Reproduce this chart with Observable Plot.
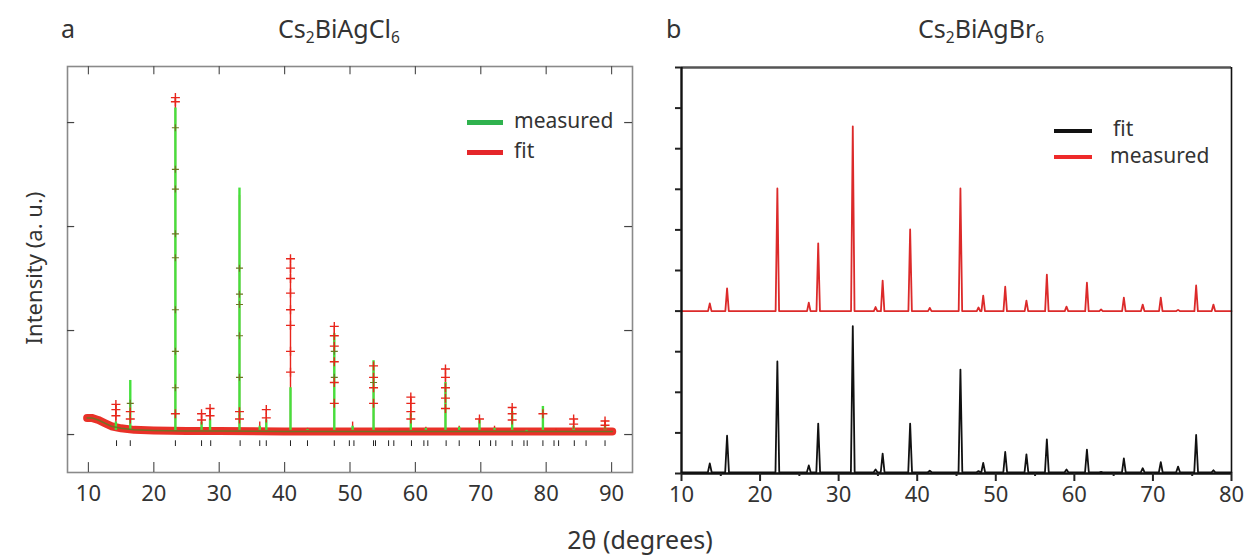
<!DOCTYPE html>
<html><head><meta charset="utf-8">
<script src="https://cdn.jsdelivr.net/npm/d3@7"></script>
<script src="https://cdn.jsdelivr.net/npm/@observablehq/plot@0.6"></script>
<style>
html,body{margin:0;padding:0;background:#fff;}
#root{position:relative;width:1252px;height:558px;overflow:hidden;font-family:"Noto Sans",sans-serif;color:#333;}
.abs{position:absolute;white-space:nowrap;line-height:1;}
.sub{font-size:62%;position:relative;top:0.35em;}
.leg{position:absolute;height:4px;}
</style>
</head><body>
<div id="root"></div>
<script>
// ---------- Panel a : Cs2BiAgCl6 ----------
const peaksA_x   = [14.2,16.4,23.3,27.3,28.6,33.1,36.2,37.2,40.9,43.5,47.6,50.4,53.6,56.0,59.3,61.6,64.6,66.7,69.8,72.1,74.8,77.0,79.5,81.5,84.2,89.0];
const measuredA  = [0.12,0.52,3.14,0.12,0.15,2.37,0.08,0.14,0.45,0.05,0.97,0.08,0.71,0.04,0.20,0.06,0.50,0.07,0.14,0.06,0.22,0.03,0.27,0.04,0.08,0.09];
const fitA       = [0.29,0.24,3.24,0.20,0.25,2.30,0.12,0.24,1.69,0.06,1.04,0.12,0.66,0.05,0.36,0.07,0.63,0.08,0.15,0.08,0.26,0.04,0.20,0.05,0.15,0.13];
const bgA_x = [9.8,10.5,11.5,12.5,13.5,15,17,20,25,30,40,50,60,70,80,90.1];
const bgA_y = [0.16,0.16,0.14,0.11,0.08,0.06,0.045,0.04,0.035,0.035,0.03,0.03,0.03,0.03,0.03,0.03];
const fitCrossX = [14.2,14.2,14.2,16.4,16.4,23.3,23.3,23.3,27.3,27.3,28.6,28.6,33.1,33.1,37.2,37.2,
  40.9,40.9,40.9,40.9,40.9,40.9,40.9,40.9,47.6,47.6,47.6,47.6,47.6,47.6,53.6,53.6,53.6,53.6,
  59.3,59.3,59.3,59.3,64.6,64.6,64.6,64.6,64.6,74.8,74.8,74.8,84.2,84.2,89.0,89.0,69.8,79.5];
const fitCrossY = [0.29,0.24,0.18,0.22,0.15,3.24,3.20,0.20,0.20,0.14,0.25,0.18,0.22,0.15,0.24,0.16,
  1.69,1.60,1.50,1.36,1.20,1.05,0.80,0.60,1.04,0.95,0.85,0.70,0.50,0.30,0.66,0.55,0.45,0.30,
  0.36,0.30,0.22,0.15,0.63,0.55,0.45,0.35,0.25,0.26,0.20,0.14,0.15,0.10,0.13,0.09,0.15,0.20];
const measCrossX = [23.3,23.3,23.3,23.3,23.3,23.3,23.3,23.3,33.1,33.1,33.1,33.1,33.1,47.6,47.6,53.6,16.4];
const measCrossY = [2.95,2.55,2.36,1.93,1.70,1.20,0.80,0.45,1.60,1.35,1.25,0.95,0.55,0.80,0.55,0.50,0.30];
const braggA = [14.3,16.4,23.3,27.3,28.7,33.2,36.2,37.2,40.9,43.5,47.6,49.9,50.6,53.6,53.9,55.9,56.7,59.4,61.3,61.9,
  64.7,66.7,69.8,71.5,72.3,74.8,76.6,77.1,79.5,81.2,81.9,84.3,86.1,89.0];
const xTicksA = [10,20,30,40,50,60,70,80,90];
const yTicksA = [0,1,2,3];

// ---------- Panel b : Cs2BiAgBr6 ----------
const peaksB_x  = [13.6,15.8,22.2,26.2,27.4,31.8,34.7,35.6,39.1,41.6,45.5,47.8,48.4,51.2,53.9,56.5,59.0,61.6,63.4,66.3,68.7,71.0,73.2,75.5,77.7];
const fitB      = [0.25,0.93,2.76,0.20,1.23,3.63,0.10,0.49,1.23,0.07,2.56,0.06,0.26,0.53,0.47,0.84,0.10,0.59,0.04,0.37,0.13,0.28,0.17,0.95,0.08];
const measuredB = [4.19,4.56,7.02,4.21,5.67,8.55,4.10,4.75,6.01,4.08,7.02,4.09,4.38,4.60,4.26,4.90,4.11,4.70,4.04,4.33,4.16,4.33,4.03,4.63,4.16];
const xTicksB = [10,20,30,40,50,60,70,80];
const xMinorB = [15,25,35,45,55,65,75];
const yTicksB = [0,1,2,3,4,5,6,7,8,9,10];

const GREEN = "#45e03c", RED = "#e8261c", OLIVE = "#6f7424";
const FONT = "Noto Sans, sans-serif";

const root = document.getElementById("root");

// ----- build panel a -----
const xDomA = [6.8, 93.2], yDomA = [-0.365, 3.539];
const bgA = bgA_x.map((x,i)=>({x, y: bgA_y[i]}));
const pkA = peaksA_x.map((x,i)=>({x, m: measuredA[i], f: fitA[i]}));
const crossF = fitCrossX.map((x,i)=>({x, y: fitCrossY[i]}));
const crossM = measCrossX.map((x,i)=>({x, y: measCrossY[i]}));

const plotA = Plot.plot({
  width: 645, height: 520,
  marginLeft: 67, marginRight: 13, marginTop: 66, marginBottom: 48,
  x: {domain: xDomA, label: null},
  y: {domain: yDomA, axis: null, label: null},
  style: {fontFamily: FONT, fontSize: "22px", color: "#333", background: "transparent", overflow: "visible"},
  marks: [
    Plot.line(bgA, {x:"x", y:"y", stroke: RED, strokeWidth: 8, strokeOpacity: 0.95}),
    Plot.ruleX(pkA, {x:"x", y1: 0.04, y2:"f", stroke: RED, strokeWidth: 1.4}),
    Plot.ruleX(pkA, {x:"x", y1: 0.04, y2:"m", stroke: GREEN, strokeWidth: 2.4}),
    Plot.line(bgA, {x:"x", y:"y", stroke: OLIVE, strokeWidth: 1.5}),
    Plot.dot(crossM, {x:"x", y:"y", symbol:"plus", r: 2.4, stroke: OLIVE, strokeWidth: 1.1}),
    Plot.dot(crossF, {x:"x", y:"y", symbol:"plus", r: 3, stroke: RED, strokeWidth: 1.4}),
    Plot.ruleX(braggA, {x: d=>d, y1: -0.06, y2: -0.115, stroke: "#222", strokeWidth: 1}),
    Plot.frame({stroke: "#8a8a8a", strokeWidth: 1.6}),
    Plot.ruleX(xTicksA, {x: d=>d, y1: yDomA[0], y2: yDomA[0]+0.095, stroke: "#555", strokeWidth: 1.2}),
    Plot.ruleX(xTicksA, {x: d=>d, y1: yDomA[1], y2: yDomA[1]-0.08, stroke: "#555", strokeWidth: 1.2}),
    Plot.ruleY(yTicksA, {y: d=>d, x1: xDomA[0], x2: xDomA[0]+1.1, stroke: "#444", strokeWidth: 1.2}),
    Plot.ruleY(yTicksA, {y: d=>d, x1: xDomA[1], x2: xDomA[1]-1.2, stroke: "#444", strokeWidth: 1.2}),
    Plot.axisX({ticks: xTicksA, tickSize: 0, tickPadding: 13, tickFormat: d=>String(d), fill: "#333", label: null})
  ]
});
const wa = document.createElement("div");
wa.style.cssText = "position:absolute;left:0;top:0;width:645px;height:520px;";
wa.appendChild(plotA);
root.appendChild(wa);

// ----- build panel b -----
function peakLine(xs, tops, base, w) {
  const pts = [{x: 10, y: base}];
  xs.forEach((x,i)=>{ pts.push({x: x-w, y: base}, {x, y: tops[i]}, {x: x+w, y: base}); });
  pts.push({x: 80, y: base});
  return pts;
}
const lineFitB = peakLine(peaksB_x, fitB, 0.03, 0.24);
const lineMeasB = peakLine(peaksB_x, measuredB, 4.0, 0.22);

const plotB = Plot.plot({
  width: 612, height: 520,
  marginLeft: 41, marginRight: 21, marginTop: 67, marginBottom: 47,
  x: {domain: [10, 80], label: null},
  y: {domain: [0, 10], label: null},
  style: {fontFamily: FONT, fontSize: "22px", color: "#333", background: "transparent", overflow: "visible"},
  marks: [
    Plot.line(lineMeasB, {x:"x", y:"y", stroke: "#dc2a2a", strokeWidth: 1.8}),
    Plot.line(lineFitB, {x:"x", y:"y", stroke: "#111", strokeWidth: 1.8}),
    Plot.ruleY([10], {stroke: "#555", strokeWidth: 2.4}),
    Plot.ruleX([80], {stroke: "#111", strokeWidth: 1.6}),
    Plot.ruleX([10], {stroke: "#111", strokeWidth: 2.4}),
    Plot.ruleY([0], {stroke: "#111", strokeWidth: 2.4}),
    Plot.axisY({ticks: yTicksB, tickSize: 6, tickFormat: () => "", stroke: "#222", strokeWidth: 2, label: null}),
    Plot.axisX({ticks: xMinorB, tickSize: 3, tickFormat: () => "", stroke: "#222", strokeWidth: 2, label: null}),
    Plot.axisX({ticks: xTicksB, tickSize: 8, tickPadding: 5, tickFormat: d=>String(d), stroke: "#222", strokeWidth: 2, fill: "#333", label: null})
  ]
});
const wb = document.createElement("div");
wb.style.cssText = "position:absolute;left:640px;top:0;width:612px;height:520px;";
wb.appendChild(plotB);
root.appendChild(wb);

// ----- text & legends -----
function addText(html, css) {
  const d = document.createElement("div");
  d.className = "abs";
  d.innerHTML = html;
  d.style.cssText += css;
  root.appendChild(d);
  return d;
}
function addLeg(x, y, w, color, h) {
  const d = document.createElement("div");
  d.className = "leg";
  d.style.cssText += `left:${x}px;top:${y - h/2}px;width:${w}px;height:${h}px;background:${color};`;
  root.appendChild(d);
}
addText("a", "left:61px;top:16px;font-size:25px;");
addText('Cs<span class="sub">2</span>BiAgCl<span class="sub">6</span>', "left:278px;top:16px;font-size:25px;");
addText("b", "left:666px;top:16px;font-size:25px;");
addText('Cs<span class="sub">2</span>BiAgBr<span class="sub">6</span>', "left:918px;top:16px;font-size:25px;");

addLeg(467, 122, 36, "#2fb24e", 5);
addLeg(467, 152, 36, "#e5262a", 5);
addText("measured", "left:514px;top:110px;font-size:21px;");
addText("fit", "left:514px;top:140px;font-size:21px;");

addLeg(1054, 131, 38, "#111", 3.5);
addLeg(1054, 157, 38, "#ee2a2a", 3.5);
addText("fit", "left:1113px;top:118px;font-size:21px;");
addText("measured", "left:1110px;top:145px;font-size:21px;");

addText("2θ (degrees)", "left:640px;top:527px;font-size:25px;transform:translateX(-50%);");
addText("Intensity (a. u.)", "left:33px;top:268px;font-size:22px;transform:translate(-50%,-50%) rotate(-90deg);");
</script>
</body></html>
